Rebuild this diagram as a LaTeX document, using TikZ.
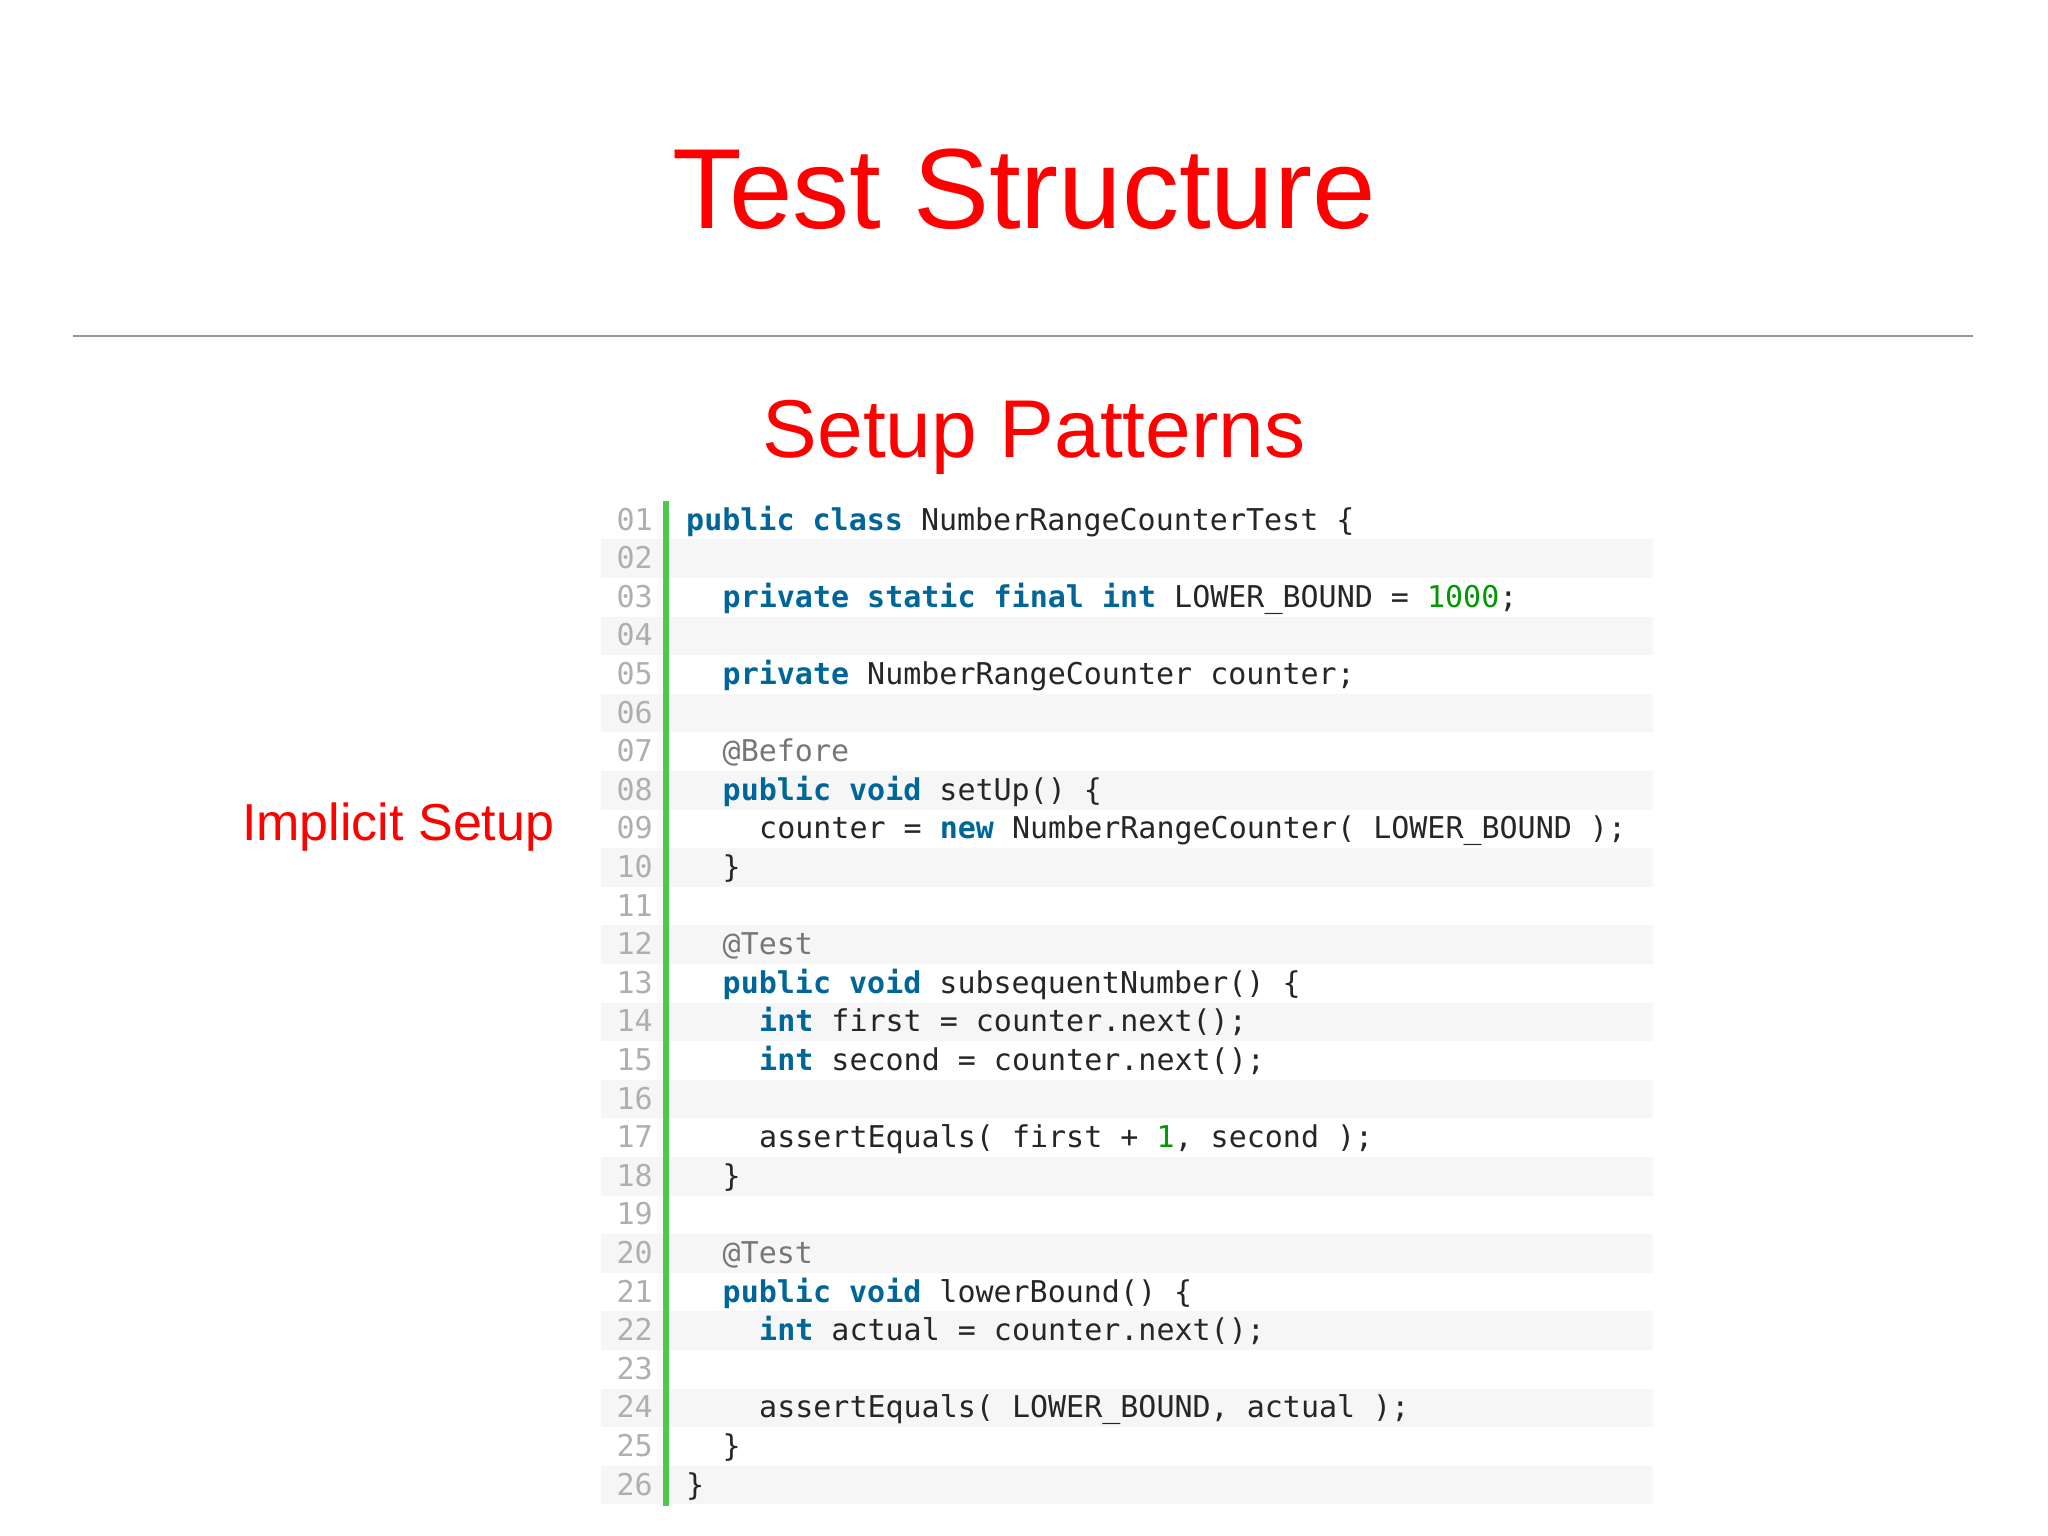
\documentclass[tikz,border=0pt]{standalone}
\usepackage{fontspec}
\setmainfont{Liberation Sans}
\newfontfamily\codefont{DejaVu Sans Mono}
\definecolor{kwc}{HTML}{006699}
\definecolor{numc}{HTML}{009900}
\definecolor{annc}{HTML}{777777}
\definecolor{lnc}{HTML}{AFAFAF}
\definecolor{bandc}{HTML}{F6F6F6}
\definecolor{titlec}{HTML}{FF0000}
\newcommand{\kw}[1]{\textcolor{kwc}{\bfseries #1}}
\newcommand{\nm}[1]{\textcolor{numc}{#1}}
\newcommand{\an}[1]{\textcolor{annc}{#1}}
\tikzset{
  codeline/.style={anchor=base west,inner sep=0pt,font=\codefont\fontsize{30}{31}\selectfont,text=black!85},
  lnum/.style={anchor=base east,inner sep=0pt,font=\codefont\fontsize{30}{31}\selectfont,text=lnc},
}
\begin{document}
\begin{tikzpicture}[x=1pt,y=-1pt]
\useasboundingbox[fill=white] (0,0) rectangle (2048,1535);
\node[anchor=base,inner sep=0pt,text=titlec,font=\fontsize{114}{116}\selectfont] (title) at (1024,228) {Test Structure};
\draw[color=black!40,line width=1.2pt] (73,336) coordinate (rl) -- (1973,336) coordinate (rr);
\node[anchor=base,inner sep=0pt,text=titlec,font=\fontsize{82}{86}\selectfont] (sub) at (1034,457) {Setup Patterns};
\node[anchor=base west,inner sep=0pt,text=titlec,font=\fontsize{52}{54}\selectfont] (impl) at (242,840) {Implicit Setup};
\foreach \i in {2,4,...,26}{
  \fill[bandc] (601,{520+(\i-1)*38.6-19.3}) rectangle (1653,{520+(\i-1)*38.6+19.3});
}
\fill[green!70!black!70] (663,501) rectangle (669,1506);
\foreach \i/\t in {1/01,2/02,3/03,4/04,5/05,6/06,7/07,8/08,9/09,10/10,11/11,12/12,13/13,14/14,15/15,16/16,17/17,18/18,19/19,20/20,21/21,22/22,23/23,24/24,25/25,26/26}{
  \node[lnum] (ln\t) at (653,{520+(\i-1)*38.6+10}) {\t};
}
\newcommand{\cl}[3]{\node[codeline] (c#1) at ({686+#2*36.5},{520+(#1-1)*38.6+10}) {#3};}
\cl{1}{0}{\kw{public} \kw{class} NumberRangeCounterTest \{}
\cl{3}{1}{\kw{private} \kw{static} \kw{final} \kw{int} LOWER\_BOUND = \nm{1000};}
\cl{5}{1}{\kw{private} NumberRangeCounter counter;}
\cl{7}{1}{\an{@Before}}
\cl{8}{1}{\kw{public} \kw{void} setUp() \{}
\cl{9}{2}{counter = \kw{new} NumberRangeCounter( LOWER\_BOUND );}
\cl{10}{1}{\}}
\cl{12}{1}{\an{@Test}}
\cl{13}{1}{\kw{public} \kw{void} subsequentNumber() \{}
\cl{14}{2}{\kw{int} first = counter.next();}
\cl{15}{2}{\kw{int} second = counter.next();}
\cl{17}{2}{assertEquals( first + \nm{1}, second );}
\cl{18}{1}{\}}
\cl{20}{1}{\an{@Test}}
\cl{21}{1}{\kw{public} \kw{void} lowerBound() \{}
\cl{22}{2}{\kw{int} actual = counter.next();}
\cl{24}{2}{assertEquals( LOWER\_BOUND, actual );}
\cl{25}{1}{\}}
\cl{26}{0}{\}}
\end{tikzpicture}
\end{document}
